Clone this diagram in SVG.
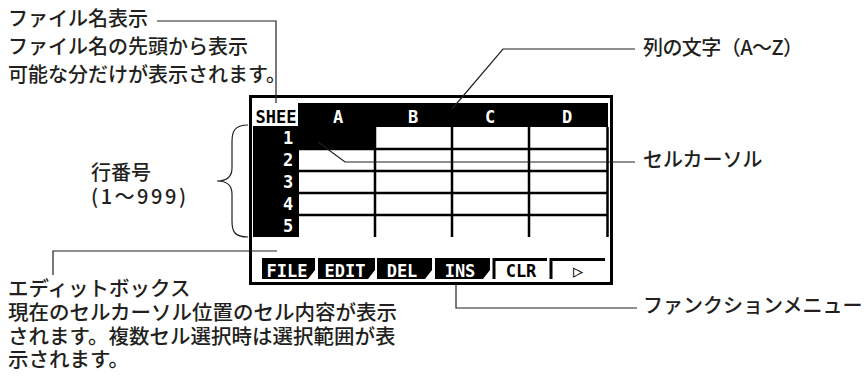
<svg xmlns="http://www.w3.org/2000/svg" width="865" height="378" viewBox="0 0 865 378">
<style>
.jp{font-family:"Noto Sans CJK JP","Noto Sans",sans-serif;font-size:20px;font-weight:500;fill:#231f20}
.jb{font-family:"Noto Sans CJK JP","Noto Sans",sans-serif;font-size:20.5px;font-weight:500;fill:#231f20}
.px{font-family:"DejaVu Sans Mono","Liberation Mono",monospace;font-weight:bold;font-size:17px}
.w{fill:#fff}
.k{fill:#000}
.grid{stroke:#000;stroke-width:2.5;fill:none}
.conn{stroke:#231f20;stroke-width:1.2;fill:none}
</style>
<rect width="865" height="378" fill="#fff"/>

<g id="screen">
  <rect x="250.5" y="96.5" width="361" height="187" fill="#fff" stroke="#000" stroke-width="3"/>
  <rect x="253" y="103" width="355" height="24" class="k"/>
  <rect x="253" y="103" width="45" height="23" class="w"/>
  <rect x="253" y="127" width="46" height="110" class="k"/>
  <rect x="299" y="127" width="76" height="22" class="k"/>
  <path class="grid" d="M375,127V237M452,127V237M529,127V237M607.5,127V237M299,149H608M299,171H608M299,193H608M299,215H608"/>
  <text class="px k" x="276" y="123" text-anchor="middle" font-size="18">SHEE</text>
  <text class="px w" x="338" y="123" text-anchor="middle">A</text>
  <text class="px w" x="413" y="123" text-anchor="middle">B</text>
  <text class="px w" x="490" y="123" text-anchor="middle">C</text>
  <text class="px w" x="567" y="123" text-anchor="middle">D</text>
  <text class="px w" x="288" y="144" text-anchor="middle">1</text>
  <text class="px w" x="288" y="166" text-anchor="middle">2</text>
  <text class="px w" x="288" y="188" text-anchor="middle">3</text>
  <text class="px w" x="288" y="210" text-anchor="middle">4</text>
  <text class="px w" x="288" y="232" text-anchor="middle">5</text>
</g>

<g id="menu">
  <polygon class="k" points="262,258 315,258 315,270 308,279 262,279"/>
  <polygon class="k" points="318,258 375,258 375,270 368,279 318,279"/>
  <polygon class="k" points="377,258 432,258 432,270 425,279 377,279"/>
  <polygon class="k" points="435,258 490,258 490,270 483,279 435,279"/>
  <path d="M494,279V259.5H547M551,279V259.5H605" stroke="#000" stroke-width="3" fill="none"/>
  <text class="px w" x="287" y="277" text-anchor="middle">FILE</text>
  <text class="px w" x="345" y="277" text-anchor="middle">EDIT</text>
  <text class="px w" x="402" y="277" text-anchor="middle">DEL</text>
  <text class="px w" x="460" y="277" text-anchor="middle">INS</text>
  <text class="px k" x="521" y="277" text-anchor="middle">CLR</text>
  <text class="px k" x="578" y="277" text-anchor="middle">▷</text>
</g>

<g id="brace">
  <path class="conn" d="M248,125C234,125 232,132 232,142L232,168C232,177 226,181 217,181C226,181 232,185 232,194L232,221C232,231 234,237 248,237"/>
</g>

<g id="connectors">
  <polyline class="conn" points="157,21 276,21 276,103"/>
  <polyline class="conn" points="452,109 503,49 635,49"/>
  <polyline class="conn" points="318,142 345,162 635,162"/>
  <polyline class="conn" points="53,275 53,251 277,251"/>
  <polyline class="conn" points="456,285 456,308 637,308"/>
</g>

<g id="label-filename">
  <text class="jp" x="8" y="26">ファイル名表示</text>
  <text class="jp" x="8" y="54">ファイル名の先頭から表示</text>
  <text class="jp" x="8" y="82">可能な分だけが表示されます。</text>
</g>
<g id="label-rows">
  <text class="jp" x="91" y="180">行番号</text>
  <text class="jp" x="91" y="204" textLength="95" lengthAdjust="spacing">(1〜999)</text>
</g>
<g id="label-cols"><text class="jp" x="643" y="55" textLength="160" lengthAdjust="spacing">列の文字（A～Z）</text></g>
<g id="label-cursor"><text class="jp" x="643" y="167">セルカーソル</text></g>
<g id="label-func"><text class="jp" x="643" y="313">ファンクションメニュー</text></g>
<g id="label-edit">
  <text class="jb" x="8" y="296">エディットボックス</text>
  <text class="jb" x="8" y="320">現在のセルカーソル位置のセル内容が表示</text>
  <text class="jb" x="8" y="344">されます。複数セル選択時は選択範囲が表</text>
  <text class="jb" x="8" y="367">示されます。</text>
</g>
</svg>
